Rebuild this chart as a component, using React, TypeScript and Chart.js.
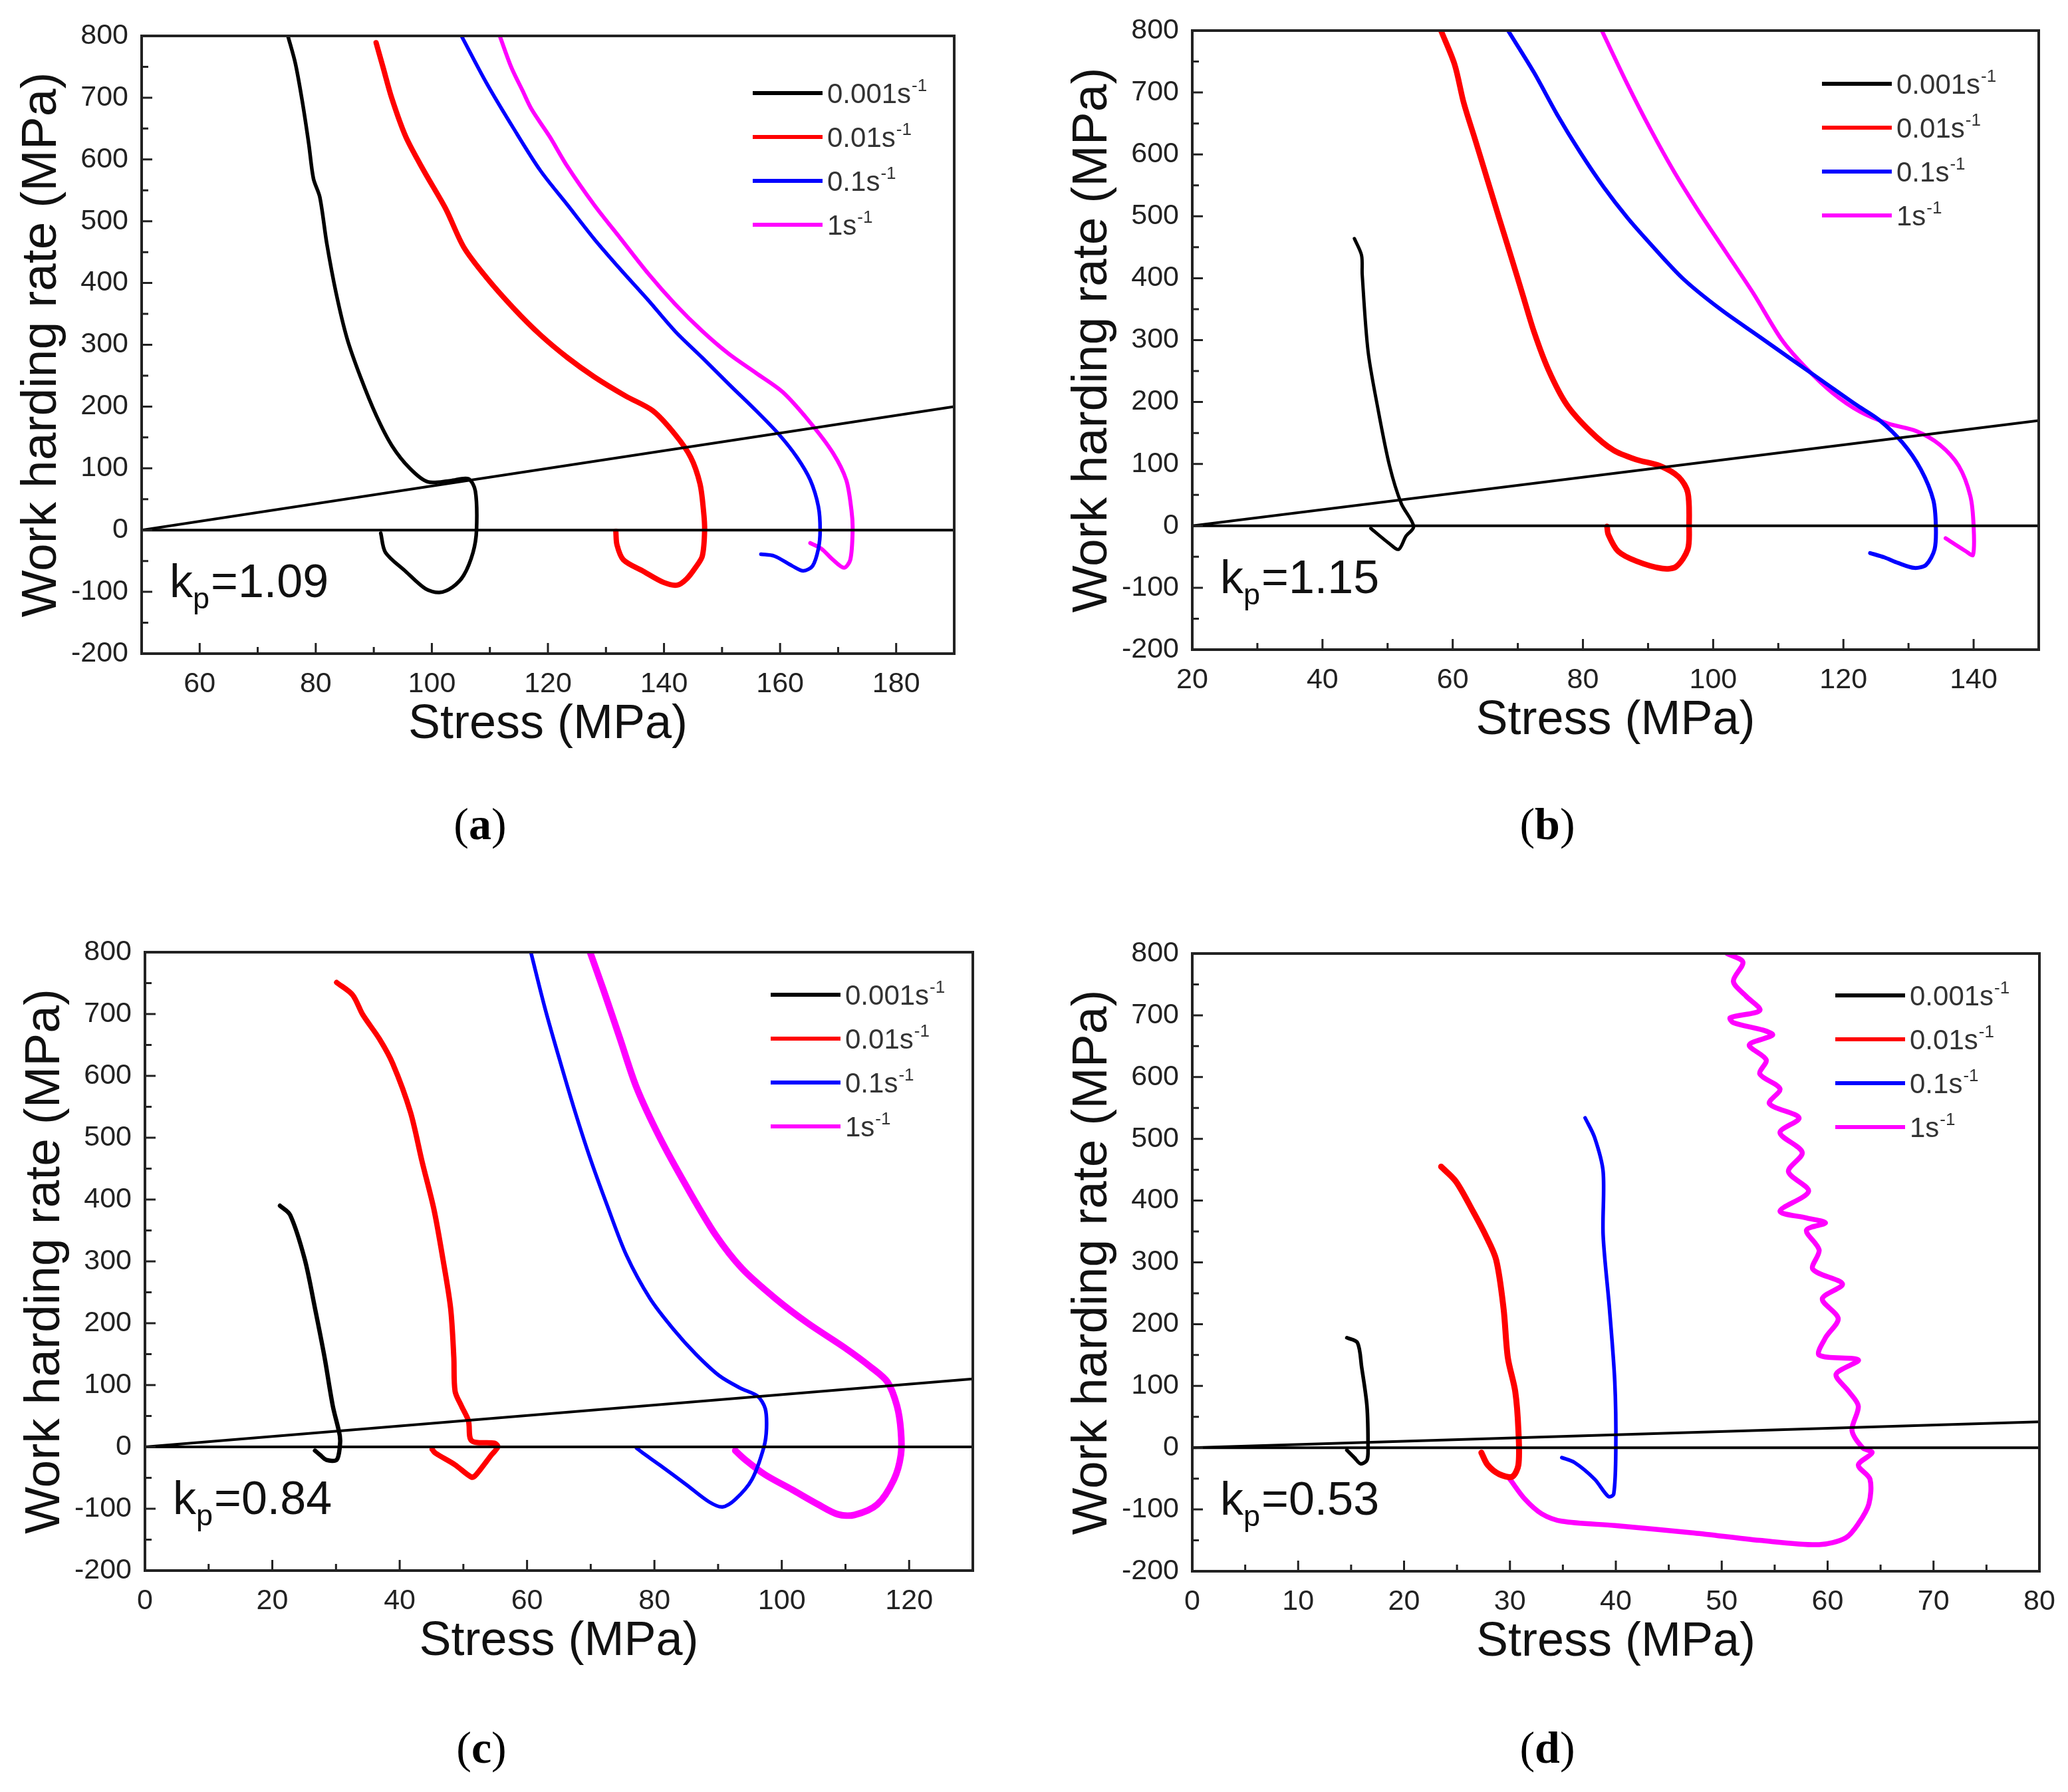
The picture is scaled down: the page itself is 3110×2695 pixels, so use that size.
import React, { useEffect, useRef } from "react";
import { Chart, registerables } from "chart.js";

Chart.register(...registerables);

// ---------- shared labels / ticks ----------
const RATES = ["0.001", "0.01", "0.1", "1"];
const RATE_UNIT = "s";
const RATE_SUP = "-1";
const COLORS = ["#000000", "#ff0000", "#0000ff", "#ff00ff"];
const X_TITLE = "Stress (MPa)";
const Y_TITLE = "Work harding rate (MPa)";
const Y_TICKS = [-200, -100, 0, 100, 200, 300, 400, 500, 600, 700, 800];
const Y_MINOR = [-150, -50, 50, 150, 250, 350, 450, 550, 650, 750];

// ---------- panel (a) ----------
const A_X_TICKS = [60, 80, 100, 120, 140, 160, 180];
const A_X_MINOR = [50, 70, 90, 110, 130, 150, 170, 190];
const A_KP = "1.09";
const A_SLOPE_END = 200;
const A_BLACK = [[75.2, 800], [76.5, 755], [77.7, 693], [78.8, 625], [79.6, 569], [80.7, 539], [81.9, 464], [83.5, 384], [85.4, 310], [87.7, 248], [90.4, 186], [93.1, 137], [96.2, 100], [99.3, 78], [103.2, 80], [106.3, 83], [107.5, 63], [107.7, 0], [107.1, -36], [105.5, -73], [103.6, -92], [101.3, -101], [98.9, -95], [95.5, -67], [92, -36], [91.2, -5]];
const A_RED = [[90.4, 789], [91.6, 749], [93.1, 699], [95.5, 637], [98.6, 582], [102.4, 520], [105.5, 458], [109.4, 409], [114.1, 359], [118.7, 316], [123.4, 279], [128, 248], [133.4, 217], [138.1, 193], [141.9, 155], [144.6, 118], [146.2, 75], [146.8, 32], [147, 0], [146.6, -42], [145.4, -61], [143.9, -79], [142.3, -89], [140, -85], [136.5, -67], [133, -48], [131.9, -24], [131.7, -2]];
const A_BLUE = [[105.1, 800], [109.4, 724], [114.1, 650], [118.7, 582], [123.4, 526], [128, 471], [132.6, 421], [137.3, 372], [141.9, 322], [146.6, 279], [151.2, 236], [155.9, 193], [159.8, 155], [162.9, 118], [165.2, 81], [166.6, 38], [166.9, 0], [166.6, -30], [165.6, -58], [164, -66], [162.1, -58], [159, -42], [156.7, -39]];
const A_MAGENTA = [[111.7, 800], [113.7, 749], [115.6, 712], [117.2, 681], [120.3, 637], [123.4, 588], [128, 526], [132.6, 471], [137.3, 415], [141.9, 366], [146.6, 322], [151.2, 285], [155.9, 254], [160.5, 223], [165.2, 174], [169.1, 125], [171.4, 81], [172.3, 32], [172.5, 0], [172.1, -48], [171, -61], [169.1, -48], [167.1, -30], [165.2, -21]];

// ---------- panel (b) ----------
const B_X_TICKS = [20, 40, 60, 80, 100, 120, 140];
const B_X_MINOR = [30, 50, 70, 90, 110, 130, 150];
const B_KP = "1.15";
const B_SLOPE_END = 170;
const B_BLACK = [[44.9, 464], [46, 437], [46.1, 406], [47, 282], [48.5, 190], [50.3, 97], [52.1, 36], [54, -1], [52.8, -17], [51.7, -38], [50.3, -29], [47.4, -4]];
const B_RED = [[58.2, 800], [60.3, 745], [61.7, 683], [63.5, 622], [65.3, 560], [67.1, 498], [68.9, 437], [70.7, 375], [72.5, 313], [74.7, 252], [77.5, 196], [81.1, 153], [84.7, 122], [88.2, 107], [91.8, 97], [94.7, 79], [96.1, 54], [96.3, -1], [96.1, -38], [94.3, -66], [92.2, -69], [88.2, -57], [85.4, -41], [83.9, -14], [83.7, -1]];
const B_BLUE = [[68.5, 800], [72.5, 732], [76, 665], [79.6, 603], [83.2, 547], [86.8, 498], [90.4, 455], [95.4, 399], [101.1, 350], [106.9, 307], [111.9, 270], [116.9, 233], [121.9, 196], [125.5, 171], [129.1, 134], [131.9, 91], [133.8, 42], [134.2, -1], [134, -38], [132.7, -63], [130.9, -68], [128.4, -60], [126.3, -51], [124.1, -44]];
const B_MAGENTA = [[82.9, 800], [86.8, 714], [90.4, 640], [94, 572], [97.6, 511], [101.9, 443], [106.2, 375], [110.5, 301], [114, 258], [118.3, 215], [122.6, 184], [126.9, 165], [131.2, 153], [134.8, 131], [137.7, 97], [139.5, 48], [140, -1], [139.9, -47], [138.8, -41], [137, -29], [135.7, -20]];

// ---------- panel (c) ----------
const C_X_TICKS = [0, 20, 40, 60, 80, 100, 120];
const C_X_MINOR = [10, 30, 50, 70, 90, 110, 130];
const C_KP = "0.84";
const C_SLOPE_END = 110;
const C_BLACK = [[21.2, 390], [22.8, 375], [25.1, 303], [26.7, 224], [28.2, 145], [29.5, 66], [30.6, 18], [30.6, 0], [30.1, -21], [28.5, -21], [27.5, -13], [26.7, -6]];
const C_RED = [[30.1, 751], [32.6, 731], [34.2, 699], [36.8, 660], [38.9, 620], [41.7, 541], [43.5, 462], [45.4, 383], [46.8, 303], [48, 224], [48.5, 145], [48.7, 90], [49.7, 66], [50.8, 42], [51.3, 10], [54.9, 6], [55.4, 0], [54.4, -13], [52, -45], [51.3, -49], [48.7, -29], [45.6, -10], [45.1, -4]];
const C_BLUE = [[60.6, 800], [62.8, 710], [65, 630], [67.3, 550], [69.8, 470], [72.6, 390], [75.6, 310], [79.3, 240], [83, 190], [86.5, 150], [90.2, 115], [93.5, 95], [96.2, 82], [97.4, 62], [97.6, 30], [97.2, 0], [95.3, -53], [92.7, -85], [90.7, -97], [88.6, -89], [85, -61], [80.8, -29], [78.2, -10], [77.2, -2]];
const C_MAGENTA = [[69.9, 800], [72, 739], [74.6, 660], [77.2, 581], [80.8, 501], [85, 422], [89.6, 343], [93.8, 288], [99, 240], [104.1, 200], [109.8, 161], [114, 129], [116.6, 105], [118.1, 66], [118.7, 26], [118.7, -13], [117.6, -53], [115, -93], [111.4, -110], [108.8, -109], [105.7, -93], [101.6, -69], [97.4, -45], [94.3, -21], [92.7, -6]];

// ---------- panel (d) ----------
const D_X_TICKS = [0, 10, 20, 30, 40, 50, 60, 70, 80];
const D_X_MINOR = [5, 15, 25, 35, 45, 55, 65, 75];
const D_KP = "0.53";
const D_SLOPE_END = 42;
const D_BLACK = [[14.6, 178], [15.6, 170], [16, 130], [16.5, 67], [16.6, 0], [16.5, -20], [15.9, -26], [15.3, -16], [14.6, -4]];
const D_RED = [[23.5, 455], [24.9, 431], [26.5, 383], [27.7, 344], [28.7, 304], [29.4, 225], [29.8, 146], [30.5, 91], [30.8, 28], [30.8, -28], [30.2, -47], [29, -43], [27.9, -28], [27.3, -8]];
const D_BLUE = [[37.1, 534], [38, 502], [38.8, 447], [38.8, 344], [39.4, 225], [39.9, 107], [40, 0], [39.8, -75], [39.3, -79], [38, -51], [36.1, -24], [34.9, -16]];
const D_MAGENTA = [[50.5, 800], [52, 786], [51.1, 755], [52.3, 731], [53.6, 708], [50.8, 696], [51.1, 688], [53.9, 676], [54.8, 668], [52.6, 652], [54.2, 628], [53.6, 605], [55.5, 581], [54.5, 557], [57.3, 534], [55.5, 510], [57.6, 478], [56.3, 447], [58.2, 415], [55.5, 383], [58, 372], [59.8, 364], [58, 352], [59.2, 320], [58.6, 289], [61.4, 265], [59.5, 241], [61, 209], [59.8, 178], [59.2, 150], [62.9, 142], [60.8, 119], [62, 91], [62.9, 67], [62.3, 28], [63.3, 0], [64.2, -8], [62.9, -28], [64, -51], [63.9, -91], [62.9, -123], [61.7, -146], [59.2, -157], [53.6, -150], [47.4, -138], [39.9, -126], [34.9, -119], [33, -107], [31.4, -83], [30, -51]];

// ---------- layout (page pixels) ----------
const FONT = "'Liberation Sans', Arial, sans-serif";
const W_Y = 195;
const H_X = 150;
const PAD_T = 30;
const PAD_R = 40;

type Pt = number[];
interface PanelCfg {
  key: string;
  xMin: number;
  xMax: number;
  xTicks: number[];
  xMinor: number[];
  slopeEnd: number;
  kp: string;
  series: Pt[][];
  widths: number[];
  plot: { L: number; T: number; R: number; B: number };
  legend: { dx: number; dy: number };
  caption: { cx: number; top: number };
}

const PANELS: PanelCfg[] = [
  {
    key: "a", xMin: 50, xMax: 190, xTicks: A_X_TICKS, xMinor: A_X_MINOR, slopeEnd: A_SLOPE_END, kp: A_KP,
    series: [A_BLACK, A_RED, A_BLUE, A_MAGENTA], widths: [5.5, 8, 5.5, 6],
    plot: { L: 213, T: 54, R: 1435, B: 983 }, legend: { dx: 303, dy: 86 }, caption: { cx: 722, top: 1205 },
  },
  {
    key: "b", xMin: 20, xMax: 150, xTicks: B_X_TICKS, xMinor: B_X_MINOR, slopeEnd: B_SLOPE_END, kp: B_KP,
    series: [B_BLACK, B_RED, B_BLUE, B_MAGENTA], widths: [5, 8.5, 6, 6],
    plot: { L: 1793, T: 46, R: 3066, B: 977 }, legend: { dx: 326, dy: 80 }, caption: { cx: 2327, top: 1205 },
  },
  {
    key: "c", xMin: 0, xMax: 130, xTicks: C_X_TICKS, xMinor: C_X_MINOR, slopeEnd: C_SLOPE_END, kp: C_KP,
    series: [C_BLACK, C_RED, C_BLUE, C_MAGENTA], widths: [6.5, 8, 5.5, 10],
    plot: { L: 218, T: 1432, R: 1463, B: 2362 }, legend: { dx: 304, dy: 64 }, caption: { cx: 724, top: 2594 },
  },
  {
    key: "d", xMin: 0, xMax: 80, xTicks: D_X_TICKS, xMinor: D_X_MINOR, slopeEnd: D_SLOPE_END, kp: D_KP,
    series: [D_BLACK, D_RED, D_BLUE, D_MAGENTA], widths: [5.5, 9, 5.5, 7.5],
    plot: { L: 1793, T: 1434, R: 3067, B: 2363 }, legend: { dx: 307, dy: 63 }, caption: { cx: 2327, top: 2594 },
  },
];

function makeDecor(cfg: PanelCfg) {
  return {
    id: "decor_" + cfg.key,
    afterDraw(chart: any) {
      const { ctx, chartArea, scales } = chart;
      const { left, right, top, bottom } = chartArea;
      const x = scales.x;
      const y = scales.y;
      ctx.save();
      ctx.strokeStyle = "#222";
      ctx.lineWidth = 3;
      ctx.beginPath();
      cfg.xTicks.forEach((v) => {
        const px = x.getPixelForValue(v);
        ctx.moveTo(px, bottom);
        ctx.lineTo(px, bottom - 16);
      });
      cfg.xMinor.forEach((v) => {
        const px = x.getPixelForValue(v);
        ctx.moveTo(px, bottom);
        ctx.lineTo(px, bottom - 10);
      });
      Y_TICKS.forEach((v) => {
        const py = y.getPixelForValue(v);
        ctx.moveTo(left, py);
        ctx.lineTo(left + 16, py);
      });
      Y_MINOR.forEach((v) => {
        const py = y.getPixelForValue(v);
        ctx.moveTo(left, py);
        ctx.lineTo(left + 10, py);
      });
      ctx.stroke();
      ctx.lineWidth = 4;
      ctx.strokeRect(left, top, right - left, bottom - top);

      // legend
      const sets = chart.data.datasets.filter((d: any) => d.inLegend);
      sets.forEach((d: any, i: number) => {
        const ry = top + cfg.legend.dy + i * 66;
        const x0 = right - cfg.legend.dx;
        ctx.strokeStyle = d.borderColor;
        ctx.lineWidth = 6;
        ctx.lineCap = "butt";
        ctx.beginPath();
        ctx.moveTo(x0, ry);
        ctx.lineTo(x0 + 105, ry);
        ctx.stroke();
        ctx.fillStyle = "#333";
        ctx.textAlign = "left";
        ctx.textBaseline = "alphabetic";
        ctx.font = `42px ${FONT}`;
        const base: string = d.baseLabel;
        ctx.fillText(base, x0 + 112, ry + 15);
        const w = ctx.measureText(base).width;
        ctx.font = `26px ${FONT}`;
        ctx.fillText(d.supLabel, x0 + 113 + w, ry - 3);
      });

      // k_p annotation
      ctx.fillStyle = "#111";
      ctx.textAlign = "left";
      ctx.textBaseline = "alphabetic";
      const kx = left + 42;
      const ky = bottom - 85;
      ctx.font = `70px ${FONT}`;
      ctx.fillText("k", kx, ky);
      let cx = kx + ctx.measureText("k").width;
      ctx.font = `45px ${FONT}`;
      ctx.fillText("p", cx, ky + 17);
      cx += ctx.measureText("p").width + 2;
      ctx.font = `70px ${FONT}`;
      ctx.fillText("=" + cfg.kp, cx, ky);
      ctx.restore();
    },
  };
}

function Panel({ cfg }: { cfg: PanelCfg }) {
  const ref = useRef<HTMLCanvasElement>(null);
  const left = cfg.plot.L - W_Y;
  const top = cfg.plot.T - PAD_T;
  const width = cfg.plot.R + PAD_R - left;
  const height = cfg.plot.B + H_X - top;

  useEffect(() => {
    if (!ref.current) return;
    const refLine = (data: { x: number; y: number }[]) => ({
      label: "",
      data,
      borderColor: "#000",
      borderWidth: 4,
      showLine: true,
      pointRadius: 0,
      inLegend: false,
    });
    const datasets: any[] = [
      refLine([{ x: cfg.xMin, y: 0 }, { x: cfg.xMax, y: 0 }]),
      refLine([{ x: cfg.xMin, y: 0 }, { x: cfg.xMax, y: cfg.slopeEnd }]),
      ...cfg.series.map((s, i) => ({
        label: RATES[i] + RATE_UNIT + RATE_SUP,
        baseLabel: RATES[i] + RATE_UNIT,
        supLabel: RATE_SUP,
        inLegend: true,
        data: s.map(([px, py]) => ({ x: px, y: py })),
        borderColor: COLORS[i],
        borderWidth: cfg.widths[i],
        borderJoinStyle: "round",
        borderCapStyle: "round",
        showLine: true,
        pointRadius: 0,
        tension: 0.3,
      })),
    ];
    const chart = new Chart(ref.current, {
      type: "scatter",
      data: { datasets },
      options: {
        responsive: false,
        animation: false,
        devicePixelRatio: 1,
        events: [],
        layout: { padding: { left: 0, top: PAD_T, right: PAD_R, bottom: 0 } },
        plugins: { legend: { display: false }, tooltip: { enabled: false } },
        scales: {
          x: {
            type: "linear",
            position: "bottom",
            min: cfg.xMin,
            max: cfg.xMax,
            grid: { display: false, drawTicks: false },
            border: { display: false },
            ticks: {
              font: { family: FONT, size: 43 },
              color: "#222",
              padding: 20,
              maxRotation: 0,
              autoSkip: false,
              callback: (v: any) => String(v),
            },
            afterBuildTicks: (s: any) => {
              s.ticks = cfg.xTicks.map((v) => ({ value: v }));
            },
            afterFit: (s: any) => {
              s.height = H_X;
              s.paddingLeft = 0;
              s.paddingRight = 0;
              s.paddingTop = 0;
              s.paddingBottom = 0;
            },
            title: {
              display: true,
              text: X_TITLE,
              color: "#111",
              font: { family: FONT, size: 72 },
              padding: { top: 0, bottom: 0 },
            },
          },
          y: {
            type: "linear",
            position: "left",
            min: -200,
            max: 800,
            grid: { display: false, drawTicks: false },
            border: { display: false },
            ticks: {
              font: { family: FONT, size: 43 },
              color: "#222",
              padding: 20,
              autoSkip: false,
              callback: (v: any) => String(v),
            },
            afterBuildTicks: (s: any) => {
              s.ticks = Y_TICKS.map((v) => ({ value: v }));
            },
            afterFit: (s: any) => {
              s.width = W_Y;
              s.paddingLeft = 0;
              s.paddingRight = 0;
              s.paddingTop = 0;
              s.paddingBottom = 0;
            },
            title: {
              display: true,
              text: Y_TITLE,
              color: "#111",
              font: { family: FONT, size: 75 },
              padding: { top: 0, bottom: 0 },
            },
          },
        },
      } as any,
      plugins: [makeDecor(cfg)],
    });
    return () => chart.destroy();
  }, [cfg]);

  return (
    <canvas
      ref={ref}
      width={width}
      height={height}
      style={{ position: "absolute", left, top, width, height }}
    />
  );
}

export default function App() {
  useEffect(() => {
    document.body.style.overflow = "hidden";
  }, []);
  return (
    <div
      style={{
        position: "absolute",
        left: 0,
        top: 0,
        width: 3110,
        height: 2695,
        background: "#ffffff",
        overflow: "hidden",
      }}
    >
      {PANELS.map((p) => (
        <Panel key={p.key} cfg={p} />
      ))}
      {PANELS.map((p) => (
        <div
          key={"cap" + p.key}
          style={{
            position: "absolute",
            left: p.caption.cx,
            top: p.caption.top,
            transform: "translateX(-50%)",
            fontFamily: "'Liberation Serif', 'Times New Roman', serif",
            fontSize: 68,
            lineHeight: "68px",
            color: "#000",
            whiteSpace: "nowrap",
          }}
        >
          (<b>{p.key}</b>)
        </div>
      ))}
    </div>
  );
}
